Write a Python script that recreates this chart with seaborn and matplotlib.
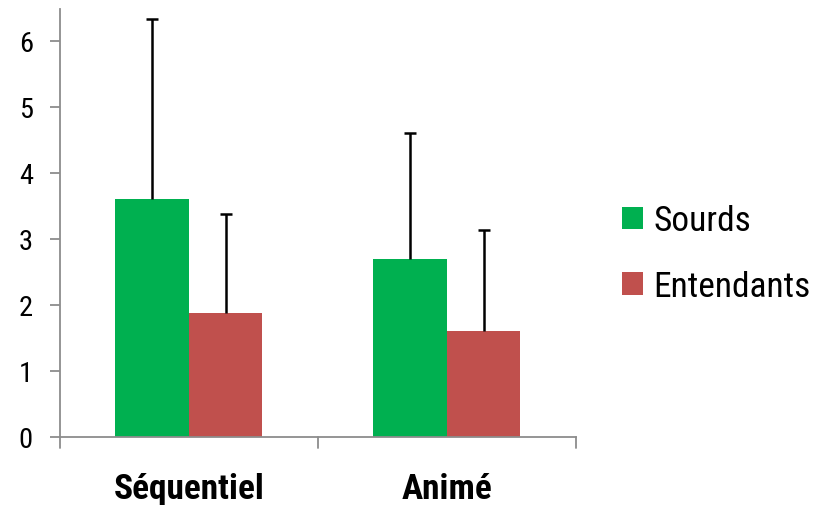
import matplotlib
matplotlib.use("Agg")
import matplotlib.pyplot as plt
import seaborn as sns
import pandas as pd
from matplotlib.font_manager import fontManager

categories = ["Séquentiel", "Animé"]
series = ["Sourds", "Entendants"]
sourds = [3.6, 2.7]
entendants = [1.87, 1.61]
err_sourds = [2.73, 1.9]
err_entendants = [1.51, 1.53]
colors = ["#00B050", "#C0504D"]

sns.set_theme(style="white")
names = {f.name for f in fontManager.ttflist}
fam = "Roboto"
for cand in ["Roboto Condensed", "Liberation Sans Narrow", "Roboto"]:
    if cand in names:
        fam = cand
        break
plt.rcParams["font.family"] = [fam, "DejaVu Sans"]
plt.rcParams["text.color"] = "black"
plt.rcParams["xtick.color"] = "black"
plt.rcParams["ytick.color"] = "black"

df = pd.DataFrame({
    "cat": categories * 2,
    "series": [series[0]] * 2 + [series[1]] * 2,
    "val": sourds + entendants,
})

fig = plt.figure(figsize=(8.15, 5.06), dpi=100)
ax = fig.add_axes([0.0736, 0.1344, 0.633, 0.846])
sns.barplot(data=df, x="cat", y="val", hue="series", palette=colors,
            width=0.57, saturation=1, ax=ax, errorbar=None, legend=True,
            linewidth=0)

errs = {series[0]: err_sourds, series[1]: err_entendants}
capw = 0.023
for cont, s in zip(ax.containers, series):
    for bar, e in zip(cont, errs[s]):
        x = bar.get_x() + bar.get_width() / 2
        h = bar.get_height()
        ax.vlines(x, h, h + e, color="black", lw=1.8, zorder=3)
        ax.hlines(h + e, x - capw, x + capw, color="black", lw=1.8, zorder=3)

ax.set_ylim(0, 6.48)
ax.set_xlim(-0.5, 1.5)
ax.set_yticks(range(7))
ax.set_xlabel("")
ax.set_ylabel("")
for sp in ["top", "right"]:
    ax.spines[sp].set_visible(False)
for sp in ["left", "bottom"]:
    ax.spines[sp].set_color("#8c8c8c")
    ax.spines[sp].set_linewidth(1.3)

ax.tick_params(axis="y", left=True, length=7.5, width=1.3, color="#8c8c8c",
               labelsize=20.5, labelcolor="black", pad=12)
ax.set_xticks([0, 1])
ax.set_xticklabels(categories, fontsize=25.5, fontweight="bold", color="black")
ax.tick_params(axis="x", bottom=False, pad=19)
for xs in [-0.5, 0.5, 1.5]:
    ax.plot([xs, xs], [0, -0.17], color="#8c8c8c", lw=1.3, clip_on=False)

leg = ax.legend(loc="center left", bbox_to_anchor=(1.089, 0.428), frameon=False,
                fontsize=25.5, handlelength=0.6, handleheight=0.6,
                handletextpad=0.3, labelspacing=0.92, borderpad=0,
                borderaxespad=0)
for t in leg.get_texts():
    t.set_color("black")

fig.savefig("out.png", dpi=100)
